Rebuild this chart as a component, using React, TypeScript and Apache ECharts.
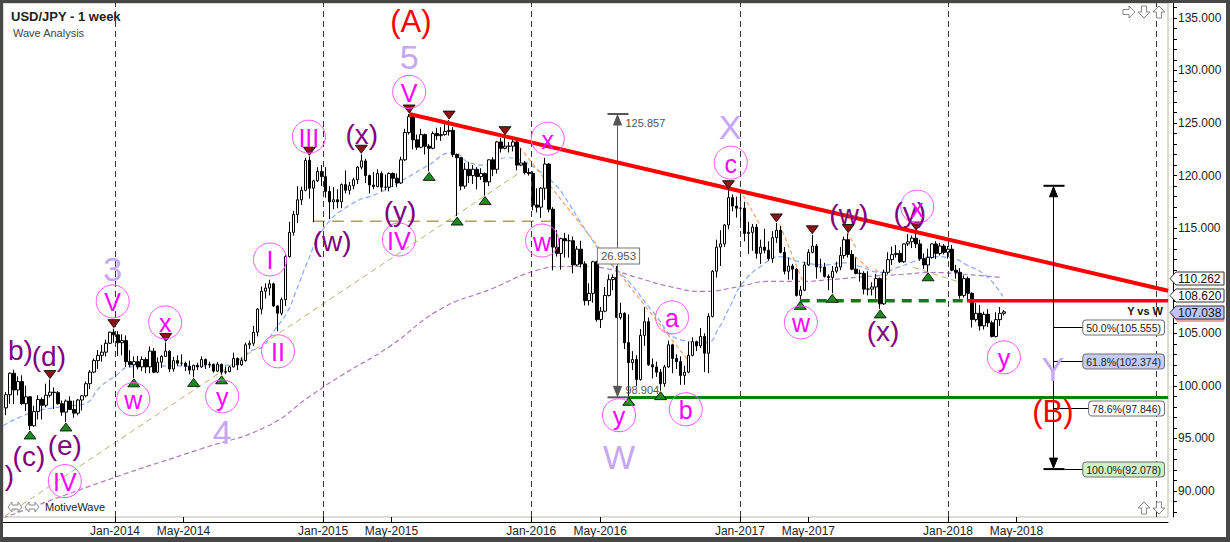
import React, { useEffect, useRef } from 'react';
import * as echarts from 'echarts';

const FONT = '"Liberation Sans", Arial, sans-serif';
const DAY0 = Date.UTC(2014, 0, 1);
function dayNum(s: string): number {
  const [y, m, d] = s.split('-').map(Number);
  return Math.round((Date.UTC(y, m - 1, d) - DAY0) / 86400000);
}

// ---- weekly candles [open, close, low, high]; each block starts on the given Monday ----
const candles2013 = [
  [97.9, 99.15, 97.2, 99.4], [99.15, 101.2, 98.3, 101.25], [101.2, 99.6, 98.25, 101.53], [99.6, 100.4, 99.1, 100.9],
  [100.4, 98.3, 98.2, 101.0], [98.3, 98.95, 97.6, 100.0], [98.95, 96.2, 95.8, 99.0], [96.2, 97.55, 96.1, 98.1],
  [97.55, 98.7, 96.8, 99.1], [98.7, 98.15, 96.8, 98.9], [98.15, 99.1, 97.95, 100.2], [99.1, 99.4, 98.9, 100.6],
  [99.4, 99.35, 97.8, 99.85], [99.35, 98.3, 98.2, 99.5], [98.3, 97.5, 97.15, 98.6], [97.5, 98.55, 96.56, 98.7],
  [98.55, 97.75, 97.7, 99.0], [97.75, 97.4, 96.95, 98.6], [97.4, 98.65, 97.2, 98.75], [98.65, 99.05, 97.65, 99.1],
  [99.05, 100.2, 98.9, 100.4], [100.2, 101.3, 99.7, 101.5], [101.3, 102.4, 101.2, 102.6], [102.4, 102.9, 101.6, 103.4],
  [102.9, 103.2, 102.3, 103.9], [103.2, 104.05, 102.8, 104.4], [104.05, 105.1, 104.0, 105.15], [105.1, 104.85, 104.1, 105.44],
];
const candles2014 = [
  [104.85, 104.1, 102.85, 105.2], [104.1, 104.3, 102.9, 104.9], [104.3, 102.3, 101.8, 104.8], [102.3, 102.0, 101.75, 103.4],
  [102.0, 102.3, 100.76, 102.8], [102.3, 101.8, 101.55, 102.85], [101.8, 102.5, 101.4, 102.8], [102.5, 101.8, 101.2, 102.7],
  [101.8, 103.3, 101.2, 103.75], [103.3, 101.3, 101.2, 103.6], [101.3, 102.25, 101.2, 102.7], [102.25, 102.8, 101.7, 102.9],
  [102.8, 103.3, 102.75, 104.13], [103.3, 101.6, 101.3, 103.4], [101.6, 102.4, 101.35, 102.75], [102.4, 102.15, 101.9, 102.9],
  [102.15, 102.15, 101.9, 103.0], [102.15, 101.85, 101.4, 102.3], [101.85, 101.5, 101.1, 102.4], [101.5, 101.95, 100.8, 102.0],
  [101.95, 101.8, 101.5, 102.2], [101.8, 102.5, 101.7, 102.8], [102.5, 102.0, 101.6, 102.6], [102.0, 102.05, 101.7, 102.3],
  [102.05, 101.4, 101.25, 102.1], [101.4, 102.05, 101.3, 102.25], [102.05, 101.3, 101.05, 102.1], [101.3, 101.35, 101.1, 101.85],
  [101.35, 101.8, 101.3, 101.9], [101.8, 102.6, 101.75, 103.15], [102.6, 102.0, 101.5, 102.7], [102.0, 102.4, 101.9, 102.7],
  [102.4, 103.9, 102.3, 104.1], [103.9, 104.05, 103.5, 104.3], [104.05, 105.1, 103.8, 105.7], [105.1, 107.3, 104.7, 107.4],
  [107.3, 109.0, 106.8, 109.45], [109.0, 109.3, 108.3, 109.75], [109.3, 109.7, 108.6, 110.09], [109.7, 107.6, 107.5, 109.8],
  [107.6, 106.9, 105.2, 107.65], [106.9, 108.2, 106.7, 108.4], [108.2, 112.3, 107.6, 112.45], [112.3, 114.6, 112.2, 115.6],
  [114.6, 116.3, 114.3, 116.65], [116.3, 117.7, 115.5, 118.98], [117.7, 118.6, 117.2, 118.95], [118.6, 121.45, 118.5, 121.7],
  [121.45, 118.8, 117.8, 121.84], [118.8, 119.5, 115.57, 119.6], [119.5, 120.4, 119.4, 120.8], [120.4, 119.9, 119.0, 121.0],
];
const candles2015 = [
  [119.9, 118.5, 117.9, 120.8], [118.5, 117.5, 115.85, 119.0], [117.5, 117.7, 116.8, 118.9], [117.7, 117.5, 116.9, 118.7],
  [117.5, 119.15, 116.9, 119.25], [119.15, 118.6, 118.3, 120.5], [118.6, 119.05, 118.2, 119.4], [119.05, 119.6, 118.7, 119.8],
  [119.6, 120.8, 119.2, 120.9], [120.8, 121.4, 120.6, 122.03], [121.4, 120.0, 119.3, 121.6], [120.0, 119.1, 118.3, 120.1],
  [119.1, 118.95, 118.7, 120.35], [118.95, 120.2, 118.9, 120.6], [120.2, 118.9, 118.5, 120.4], [118.9, 118.9, 118.6, 120.1],
  [118.9, 120.2, 118.5, 120.3], [120.2, 119.75, 118.9, 120.3], [119.75, 119.3, 118.9, 120.2], [119.3, 121.5, 119.2, 121.8],
  [121.5, 124.1, 121.4, 124.45], [124.1, 125.6, 123.9, 125.86], [125.6, 123.4, 122.5, 125.7], [123.4, 122.7, 122.45, 123.9],
  [122.7, 123.9, 122.6, 124.45], [123.9, 122.8, 122.0, 124.0], [122.8, 122.6, 120.4, 123.0], [122.6, 124.0, 122.5, 124.2],
  [124.0, 123.8, 123.4, 124.55], [123.8, 123.9, 123.3, 124.6], [123.9, 124.2, 123.8, 125.05], [124.2, 124.3, 123.8, 125.28],
  [124.3, 122.0, 121.75, 124.6], [122.0, 121.7, 116.15, 122.1], [121.7, 119.0, 118.6, 121.75], [119.0, 120.6, 118.75, 121.2],
  [120.6, 120.0, 119.3, 121.3], [120.0, 120.6, 119.2, 121.0], [120.6, 119.9, 118.7, 120.8], [119.9, 120.2, 119.6, 120.7],
  [120.2, 119.4, 118.1, 120.3], [119.4, 121.5, 119.0, 121.55], [121.5, 120.6, 119.95, 121.75], [120.6, 123.2, 120.2, 123.3],
  [123.2, 122.6, 122.2, 123.6], [122.6, 122.8, 122.5, 123.8], [122.8, 122.8, 122.2, 123.2], [122.8, 123.2, 122.3, 123.6],
  [123.2, 121.0, 120.5, 123.5], [121.0, 121.2, 120.9, 122.6], [121.2, 120.3, 120.1, 121.4], [120.3, 120.2, 120.0, 120.7],
];
const candles2016 = [
  [120.2, 117.2, 116.7, 120.4], [117.2, 117.0, 116.5, 118.8], [117.0, 118.8, 115.97, 118.9], [118.8, 121.1, 117.7, 121.69],
  [121.1, 116.8, 116.5, 121.2], [116.8, 113.2, 110.98, 117.0], [113.2, 112.6, 112.3, 114.8], [112.6, 114.0, 111.05, 114.1],
  [114.0, 113.8, 112.2, 114.55], [113.8, 113.8, 112.2, 114.4], [113.8, 111.5, 110.7, 114.2], [111.5, 113.0, 111.4, 113.3],
  [113.0, 111.6, 111.25, 113.8], [111.6, 108.1, 107.65, 111.85], [108.1, 108.8, 107.65, 109.75], [108.8, 111.8, 107.9, 111.9],
  [111.8, 106.3, 106.1, 111.9], [106.3, 107.1, 105.5, 107.5], [107.1, 108.6, 107.0, 109.4], [108.6, 110.1, 108.5, 110.6],
  [110.1, 110.3, 109.1, 110.6], [110.3, 106.5, 106.45, 111.4], [106.5, 106.9, 106.3, 107.9], [106.9, 104.1, 103.5, 107.0],
  [104.1, 102.2, 99.0, 106.8], [102.2, 102.5, 101.5, 103.3], [102.5, 100.6, 99.99, 102.9], [100.6, 104.8, 100.5, 105.4],
  [104.8, 106.1, 103.8, 107.49], [106.1, 102.0, 101.9, 106.5], [102.0, 101.8, 100.7, 102.6], [101.8, 101.3, 100.85, 102.3],
  [101.3, 100.2, 99.54, 101.6], [100.2, 101.8, 99.9, 102.0], [101.8, 103.9, 101.7, 104.3], [103.9, 102.6, 101.2, 104.0],
  [102.6, 102.3, 101.6, 103.0], [102.3, 100.99, 100.1, 102.8], [100.99, 101.3, 100.1, 101.9], [101.3, 102.9, 101.2, 104.2],
  [102.9, 104.2, 102.8, 104.6], [104.2, 103.8, 103.3, 104.3], [103.8, 104.7, 103.6, 105.5], [104.7, 103.1, 101.3, 105.0],
  [103.1, 106.6, 101.2, 106.9], [106.6, 110.9, 106.5, 111.0], [110.9, 113.2, 110.3, 113.9], [113.2, 113.5, 111.4, 114.8],
  [113.5, 115.3, 113.2, 115.4], [115.3, 117.9, 114.9, 118.66], [117.9, 117.1, 116.6, 118.2], [117.1, 116.9, 116.0, 118.0],
];
const candles2017 = [
  [116.9, 116.9, 115.05, 118.6], [116.9, 114.5, 113.75, 117.5], [114.5, 114.6, 112.55, 115.6], [114.6, 115.1, 112.85, 115.4],
  [115.1, 112.6, 112.1, 115.4], [112.6, 113.2, 111.6, 113.9], [113.2, 112.9, 112.6, 114.95], [112.9, 112.1, 111.9, 113.75],
  [112.1, 114.1, 111.7, 114.7], [114.1, 114.8, 113.6, 115.5], [114.8, 112.7, 112.6, 115.2], [112.7, 110.9, 110.6, 113.2],
  [110.9, 111.4, 110.1, 112.2], [111.4, 111.1, 110.1, 111.6], [111.1, 108.6, 108.5, 111.2], [108.6, 109.1, 108.13, 109.5],
  [109.1, 111.5, 109.0, 111.8], [111.5, 112.7, 111.4, 113.0], [112.7, 113.3, 112.6, 114.37], [113.3, 111.3, 110.2, 113.5],
  [111.3, 111.3, 110.8, 112.1], [111.3, 110.4, 110.3, 111.7], [110.4, 110.3, 109.1, 110.6], [110.3, 110.9, 108.8, 111.4],
  [110.9, 111.3, 110.7, 111.8], [111.3, 112.4, 111.0, 113.2], [112.4, 113.9, 112.1, 114.2], [113.9, 112.5, 112.2, 114.49],
  [112.5, 111.1, 111.0, 112.9], [111.1, 110.7, 110.6, 112.2], [110.7, 110.7, 109.9, 111.05], [110.7, 109.2, 108.7, 110.9],
  [109.2, 109.2, 108.6, 110.9], [109.2, 109.4, 108.6, 109.85], [109.4, 110.2, 108.3, 110.65], [110.2, 107.8, 107.32, 110.3],
  [107.8, 110.8, 107.7, 111.05], [110.8, 112.0, 110.6, 112.7], [112.0, 112.5, 111.5, 113.25], [112.5, 112.6, 112.2, 113.4],
  [112.6, 111.8, 111.7, 112.9], [111.8, 113.5, 111.7, 113.55], [113.5, 113.7, 113.3, 114.45], [113.7, 114.05, 113.1, 114.3],
  [114.05, 113.5, 113.1, 114.73], [113.5, 112.1, 111.9, 113.9], [112.1, 111.5, 111.1, 112.6], [111.5, 112.2, 110.85, 113.05],
  [112.2, 113.5, 112.1, 113.55], [113.5, 112.6, 112.05, 113.75], [112.6, 113.3, 112.4, 113.6], [113.3, 112.7, 112.5, 113.5],
];
const candles2018 = [
  [112.7, 113.0, 112.1, 113.3], [113.0, 111.0, 110.9, 113.4], [111.0, 110.8, 110.2, 111.5], [110.8, 108.6, 108.3, 111.2],
  [108.6, 110.2, 108.4, 110.5], [110.2, 108.8, 108.1, 110.4], [108.8, 106.3, 105.55, 108.9], [106.3, 106.9, 106.1, 107.9],
  [106.9, 105.7, 105.25, 107.7], [105.7, 106.8, 105.35, 107.05], [106.8, 106.0, 105.6, 107.3], [106.0, 104.7, 104.6, 106.2],
  [104.7, 106.3, 104.6, 107.0], [106.3, 106.9, 105.7, 107.5], [106.9, 107.04, 106.7, 107.2],
];
const candleBlocks: [string, number[][]][] = [
  ['2013-06-24', candles2013], ['2014-01-06', candles2014], ['2015-01-05', candles2015],
  ['2016-01-04', candles2016], ['2017-01-02', candles2017], ['2018-01-01', candles2018],
];

// pivot weeks marked with triangles
const highWeeks = ['2013-09-09', '2013-12-30', '2014-03-31', '2014-12-08', '2015-03-09', '2015-06-01', '2015-08-10',
  '2015-11-16', '2016-12-12', '2017-03-06', '2017-05-08', '2017-07-10', '2017-11-06'];
const lowWeeks = ['2013-08-05', '2013-10-07', '2014-02-03', '2014-05-19', '2014-07-07', '2015-07-06', '2015-08-24',
  '2015-10-12', '2016-06-20', '2016-08-15', '2017-04-17', '2017-06-12', '2017-09-04', '2017-11-27'];

// moving averages [day since 2014-01-01, price]
const purpleMA = [[-196, 87.42], [-9, 91.13], [149, 93.97], [267, 96.16], [342, 99.01], [395, 100.91], [482, 103.76],
  [570, 107.27], [658, 109.17], [745, 111.07], [786, 111.35], [828, 111.35], [868, 111.07], [915, 110.31], [973, 109.45],
  [1031, 108.98], [1096, 109.45], [1143, 109.93], [1201, 109.93], [1259, 110.12], [1319, 110.4], [1377, 110.59],
  [1435, 110.78], [1494, 110.59], [1552, 110.31]];
const blueMA = [[-196, 96.2], [-149, 97.4], [-96, 98.0], [-53, 98.3], [-26, 99.9], [0, 100.9], [26, 101.8], [79, 101.9],
  [149, 101.9], [210, 102.0], [237, 103.3], [258, 103.7], [281, 105.4], [302, 107.0], [319, 109.2], [337, 111.7],
  [365, 114.9], [412, 117.2], [465, 118.4], [512, 119.8], [547, 120.9], [593, 122.2], [623, 121.2], [652, 121.0],
  [687, 121.7], [710, 121.5], [740, 120.6], [775, 119.0], [786, 118.2], [828, 114.6], [863, 112.0], [903, 109.8],
  [944, 107.0], [991, 104.4], [1038, 104.1], [1058, 105.4], [1079, 107.6], [1101, 109.8], [1136, 111.5], [1166, 112.3],
  [1201, 111.8], [1249, 111.5], [1277, 111.7], [1307, 111.35], [1342, 110.8], [1377, 111.35], [1400, 111.8],
  [1435, 112.3], [1464, 112.2], [1494, 111.5], [1529, 110.4], [1557, 108.5]];

// trend / level lines [day, price]
const redTrend = [[516, 125.86], [1847, 109.05]];
const redLevel = [[1494, 108.1], [1847, 108.1]];
const greenDashed = [[1201, 108.1], [1494, 108.1]];
const greenLevel = [[900, 98.9], [1847, 98.9]];
const oliveTrend = [[-193, 87.61], [710, 120.28]];
const oliveLevel = [[347, 115.65], [775, 115.65]];
const oliveShort = [[1400, 111.26], [1494, 109.64]];
const orangeLines = [
  [[702, 123.22], [1008, 102.24]], [[1096, 118.67], [1131, 115.34]], [[1166, 115.34], [1210, 109.45]],
  [[1284, 114.68], [1301, 112.97]], [[1298, 112.3], [1324, 111.07]], [[1333, 111.07], [1354, 110.12]],
];

// axis ticks
const monthLabels = ['2014-01-01', '2014-05-01', '2015-01-01', '2015-05-01', '2016-01-01', '2016-05-01',
  '2017-01-01', '2017-05-01', '2018-01-01', '2018-05-01'];
const yearLines = ['2014-01-01', '2015-01-01', '2016-01-01', '2017-01-01', '2018-01-01', '2019-01-01'];
const priceLabels = [90, 95, 100, 105, 110, 115, 120, 125, 130, 135];
const priceTicks = Array.from({ length: 49 }, (_, i) => 88 + i);

// wave labels [text, day, price]
const purpleLabels = [['(d)', -116, 102.8], ['(c)', -151, 93.3], ['(e)', -88, 94.35], ['(w)', 381, 113.73],
  ['(x)', 433, 123.9], ['(y)', 500, 116.58], ['(w)', 1287, 116.29], ['(x)', 1347, 105.18], ['(y)', 1394, 116.48]];
const purpleCut = [['b)', -144, 103.4], [')', -177, 91.5]];
const circledLabels = [['IV', -88, 90.94], ['V', -4, 108.03], ['w', 32, 98.72], ['x', 88, 106.03], ['y', 188, 99.0],
  ['I', 272, 112.02], ['II', 286, 103.28], ['III', 340, 123.7], ['IV', 498, 113.92], ['V', 516, 127.97],
  ['w', 749, 113.82], ['x', 759, 123.51], ['y', 884, 97.2], ['a', 977, 106.51], ['b', 1001, 97.77],
  ['c', 1080, 121.23], ['w', 1203, 106.03], ['x', 1407, 117.05], ['y', 1559, 102.71]];
const lilacLabels = [['3', -4, 111.07], ['4', 188, 95.59], ['5', 516, 131.3], ['W', 884, 93.2], ['X', 1079, 124.65], ['Y', 1645, 101.57]];
const redLabels = [['(A)', 519, 134.7], ['(B)', 1645, 97.58]];

// measurements
const wMeasure = { day: 880, top: 125.857, bottom: 98.904, size: '26.953', sizeAt: 112.35 };
const fibArrow = { day: 1645, top: 119.03, bottom: 92.078 };
const fibLevels = [
  { ratio: '50.0%', price: 105.555, fill: '#ffffff' },
  { ratio: '61.8%', price: 102.374, fill: '#c4ccf6' },
  { ratio: '78.6%', price: 97.846, fill: '#ffffff' },
  { ratio: '100.0%', price: 92.078, fill: '#cdf2c6' },
];
const priceTags = [
  { value: 110.262, fill: '#ffffff' },
  { value: 108.62, fill: '#ffffff' },
  { value: 107.038, fill: '#bcc5f3' },
];

const X_MIN = -196.4, X_MAX = 1846.8, Y_MIN = 87.52, Y_MAX = 136.42;
const MONTHS = ['Jan', 'Feb', 'Mar', 'Apr', 'May', 'Jun', 'Jul', 'Aug', 'Sep', 'Oct', 'Nov', 'Dec'];

// outline arrow icons (unit shapes)
const ICON_RIGHT = [[-6, -2.5], [0, -2.5], [0, -6], [6, 0], [0, 6], [0, 2.5], [-6, 2.5]];
const ICON_DOWN = [[-2.5, -6], [2.5, -6], [2.5, 0], [6, 0], [0, 6], [-6, 0], [-2.5, 0]];
const ICON_UP = [[-2.5, 6], [2.5, 6], [2.5, 0], [6, 0], [0, -6], [-6, 0], [-2.5, 0]];
const ICON_BOTH = [[-7, 0], [-3, -5], [-3, -2], [3, -2], [3, -5], [7, 0], [3, 5], [3, 2], [-3, 2], [-3, 5]];

function buildCandles() {
  const out: number[][] = [];
  candleBlocks.forEach(([start, rows]) => {
    const s = dayNum(start);
    rows.forEach((r, i) => out.push([s + 7 * i, r[0], r[1], r[2], r[3]]));
  });
  return out;
}

function lineSeries(data: number[][], color: string, width: number, type: any, z: number, smooth = false) {
  return {
    type: 'line', data, symbol: 'none', showSymbol: false, silent: true, z, smooth,
    lineStyle: { color, width, type }, animation: false,
  };
}

function buildOption() {
  const candles = buildCandles();
  const byDay = new Map<number, number[]>();
  candles.forEach((c) => byDay.set(c[0], c));
  const highs = highWeeks.map((w) => { const c = byDay.get(dayNum(w))!; return [c[0], c[4]]; });
  const lows = lowWeeks.map((w) => { const c = byDay.get(dayNum(w))!; return [c[0], c[3]]; });

  const series: any[] = [
    {
      type: 'line', data: [[X_MIN, Y_MIN]], symbol: 'none', silent: true, z: 1,
      lineStyle: { opacity: 0 },
      markLine: {
        silent: true, symbol: ['none', 'none'], label: { show: false }, animation: false,
        lineStyle: { color: '#333', width: 1, type: [6, 4] },
        emphasis: { disabled: true },
        data: yearLines.map((s) => ({ xAxis: dayNum(s) })),
      },
    },
    lineSeries(oliveTrend, '#b9b36f', 1, [6, 4], 2),
    lineSeries(oliveLevel, '#a9a25e', 1.5, [12, 7], 2),
    lineSeries(oliveShort, '#b9b36f', 1, [6, 4], 2),
    lineSeries(purpleMA, '#b27ac2', 1.2, [5, 3], 2, true),
    lineSeries(blueMA, '#89a9ff', 1.2, [5, 3], 2, true),
    ...orangeLines.map((l) => lineSeries(l, '#ff9d5c', 1.2, [4, 3], 2)),
    {
      type: 'candlestick', data: candles, z: 3, barWidth: 3, silent: true, animation: false,
      itemStyle: { color: '#ffffff', color0: '#000000', borderColor: '#000000', borderColor0: '#000000', borderWidth: 1 },
    },
    lineSeries(redTrend, '#ff0000', 4, 'solid', 5),
    lineSeries(redLevel, '#ff0000', 3.5, 'solid', 5),
    lineSeries(greenDashed, '#0a800a', 3.5, [10, 7], 5),
    lineSeries(greenLevel, '#0a800a', 3, 'solid', 5),
    {
      type: 'scatter', data: highs, z: 6, silent: true, symbol: 'path://M0,0L12,0L6,8Z', symbolSize: [12, 8],
      symbolOffset: [0, -5], itemStyle: { color: '#8c1414', borderColor: '#000', borderWidth: 0.8, opacity: 1 },
    },
    {
      type: 'scatter', data: lows, z: 6, silent: true, symbol: 'triangle', symbolSize: [12, 8],
      symbolOffset: [0, 5], itemStyle: { color: '#1d8a1d', borderColor: '#000', borderWidth: 0.8, opacity: 1 },
    },
  ];

  return {
    animation: false,
    backgroundColor: '#ffffff',
    grid: {
      left: 3, right: 62, top: 3, bottom: 25, show: true, borderColor: '#b9b9ab', borderWidth: 1,
      backgroundColor: '#ffffff', containLabel: false, outerBoundsMode: 'none',
    },
    xAxis: {
      type: 'value', min: X_MIN, max: X_MAX, position: 'bottom', offset: 5,
      axisLine: { show: true, onZero: false, lineStyle: { color: '#000', width: 1 } },
      axisTick: { show: true, inside: true, length: 5, customValues: monthLabels.map(dayNum), lineStyle: { color: '#000' } },
      axisLabel: {
        show: true, customValues: monthLabels.map(dayNum), margin: 3, color: '#222', fontSize: 12, fontFamily: FONT,
        formatter: (v: number) => { const d = new Date(DAY0 + v * 86400000); return `${MONTHS[d.getUTCMonth()]}-${d.getUTCFullYear()}`; },
      },
      splitLine: { show: false },
    },
    yAxis: {
      type: 'value', min: Y_MIN, max: Y_MAX, position: 'right', offset: 5,
      axisLine: { show: true, onZero: false, lineStyle: { color: '#000', width: 1 } },
      axisTick: { show: true, inside: false, length: 4, customValues: priceTicks, lineStyle: { color: '#000' } },
      axisLabel: {
        show: true, customValues: priceLabels, margin: 5, color: '#222', fontSize: 12, fontFamily: FONT,
        formatter: (v: number) => v.toFixed(3),
      },
      splitLine: { show: false },
    },
    series,
  };
}

function buildGraphics(chart: any) {
  const px = (d: number, p: number) => chart.convertToPixel({ gridIndex: 0 }, [d, p]) as number[];
  const els: any[] = [];
  const text = (x: number, y: number, t: string, font: string, fill: string, align = 'center', va = 'middle', z = 50, extra: any = {}) =>
    els.push({ type: 'text', x, y, z, silent: true, style: { text: t, font, fill, align, verticalAlign: va, ...extra } });
  const line = (x1: number, y1: number, x2: number, y2: number, stroke: string, lineWidth: number, z = 40) =>
    els.push({ type: 'line', z, silent: true, shape: { x1, y1, x2, y2 }, style: { stroke, lineWidth } });
  const poly = (points: number[][], fill: string, stroke?: string, z = 41) =>
    els.push({ type: 'polygon', z, silent: true, shape: { points }, style: { fill, stroke: stroke || fill, lineWidth: 1 } });
  const icon = (cx: number, cy: number, shape: number[][]) =>
    poly(shape.map(([a, b]) => [cx + a, cy + b]), '#ffffff', '#8a8a8a', 90);

  // wave labels
  purpleLabels.forEach(([t, d, p]: any) => { const [x, y] = px(d, p); text(x, y, t, `28px ${FONT}`, '#800080'); });
  purpleCut.forEach(([t, d, p]: any) => { const [x, y] = px(d, p); text(x, y, t, `28px ${FONT}`, '#800080', 'right'); });
  circledLabels.forEach(([t, d, p]: any) => {
    const [x, y] = px(d, p);
    els.push({ type: 'circle', z: 49, silent: true, shape: { cx: x, cy: y, r: 16.5 }, style: { fill: 'none', stroke: '#ff55ff', lineWidth: 1 } });
    text(x, y + 1, t, `25px ${FONT}`, '#ff00ff');
  });
  lilacLabels.forEach(([t, d, p]: any) => { const [x, y] = px(d, p); text(x, y, t, `34px ${FONT}`, '#c8a6f6'); });
  redLabels.forEach(([t, d, p]: any) => { const [x, y] = px(d, p); text(x, y, t, `31px ${FONT}`, '#ff0000'); });

  // W measurement arrow
  {
    const [x0, yt] = px(wMeasure.day, wMeasure.top);
    const [, yb] = px(wMeasure.day, wMeasure.bottom);
    const x = Math.round(x0) + 0.5;
    const c = '#555555';
    line(x, yt, x, yb, c, 1);
    line(x - 10, yt, x + 11, yt, c, 2);
    line(x - 10, yb, x + 11, yb, c, 2);
    poly([[x, yt + 1], [x - 4, yt + 11], [x + 4, yt + 11]], c);
    poly([[x, yb - 1], [x - 4, yb - 11], [x + 4, yb - 11]], c);
    text(x + 8, yt + 9, wMeasure.top.toFixed(3), `11px ${FONT}`, c, 'left');
    text(x + 8, yb - 7, wMeasure.bottom.toFixed(3), `11px ${FONT}`, c, 'left');
    const [, ym] = px(wMeasure.day, wMeasure.sizeAt);
    text(x + 1, ym, wMeasure.size, `11.5px ${FONT}`, '#555', 'center', 'middle', 52, {
      backgroundColor: '#ffffff', borderColor: '#777', borderWidth: 1, padding: [2, 3, 1, 3],
    });
  }

  // fib arrow and levels
  {
    const [x0, yt] = px(fibArrow.day, fibArrow.top);
    const [, yb] = px(fibArrow.day, fibArrow.bottom);
    const x = Math.round(x0) + 0.5;
    const c = '#000000';
    line(x, yt, x, yb, c, 1);
    line(x - 10, yt, x + 11, yt, c, 2);
    line(x - 10, yb, x + 11, yb, c, 2);
    poly([[x, yt + 1], [x - 4, yt + 11], [x + 4, yt + 11]], c);
    poly([[x, yb - 1], [x - 4, yb - 11], [x + 4, yb - 11]], c);
    fibLevels.forEach((f, i) => {
      const [, y0] = px(fibArrow.day, f.price);
      const y = Math.round(y0) + 0.5;
      line(i === 3 ? x + 11 : x, y, x + 45, y, c, 1);
      text(1164, y, `${f.ratio}(${f.price.toFixed(3)})`, `10.5px ${FONT}`, '#222', 'right', 'middle', 52, {
        backgroundColor: f.fill, borderColor: '#707070', borderWidth: 1, borderRadius: 3, padding: [2, 3, 1, 3],
      });
    });
  }

  // price tags on the right axis
  priceTags.forEach((tag, i) => {
    const [, y0] = px(X_MAX, tag.value);
    const y = Math.round(y0) + 0.5;
    if (i === 2) poly([[1171, y + 2], [1177, y + 9], [1224, y + 9], [1224, y + 5], [1177, y + 5]], '#f2a0a0', '#f2a0a0', 60);
    poly([[1170, y], [1176, y - 6.5], [1224, y - 6.5], [1224, y + 6.5], [1176, y + 6.5]], tag.fill, '#333', 61);
    text(1178, y + 0.5, tag.value.toFixed(3), `12px ${FONT}`, '#111', 'left', 'middle', 62);
  });
  {
    const [, y] = px(X_MAX, priceTags[2].value);
    text(1163, y - 0.5, 'Y vs W', `bold 11px ${FONT}`, '#111', 'right');
  }

  // titles and chrome
  text(11, 16, 'USD/JPY - 1 week', `bold 13px ${FONT}`, '#222', 'left');
  text(13, 33, 'Wave Analysis', `11px ${FONT}`, '#444', 'left');
  text(45, 507, 'MotiveWave', `11px ${FONT}`, '#222', 'left');
  icon(15, 507, ICON_BOTH);
  icon(32, 507, ICON_BOTH);
  icon(1129, 12, ICON_RIGHT);
  icon(1144, 12, ICON_DOWN);
  icon(1159, 12, ICON_UP);
  icon(1144, 508, ICON_UP);
  icon(1159, 508, ICON_DOWN);

  const frame = '#474747';
  [[0, 0, 1230, 3], [0, 0, 3, 542], [1226, 0, 4, 542], [0, 537, 1230, 5]].forEach(([x, y, w, h]) =>
    els.push({ type: 'rect', z: 100, silent: true, shape: { x, y, width: w, height: h }, style: { fill: frame } }));
  return els;
}

export default function App() {
  const ref = useRef<HTMLDivElement>(null);
  useEffect(() => {
    if (!ref.current) return;
    const chart = echarts.init(ref.current, undefined, { renderer: 'svg' });
    chart.setOption(buildOption() as any);
    chart.setOption({ graphic: { elements: buildGraphics(chart) } } as any);
    return () => chart.dispose();
  }, []);
  return (
    <div style={{ position: 'fixed', left: 0, top: 0, width: 1230, height: 542, background: '#fff' }}>
      <div ref={ref} style={{ width: 1230, height: 542 }} />
    </div>
  );
}
